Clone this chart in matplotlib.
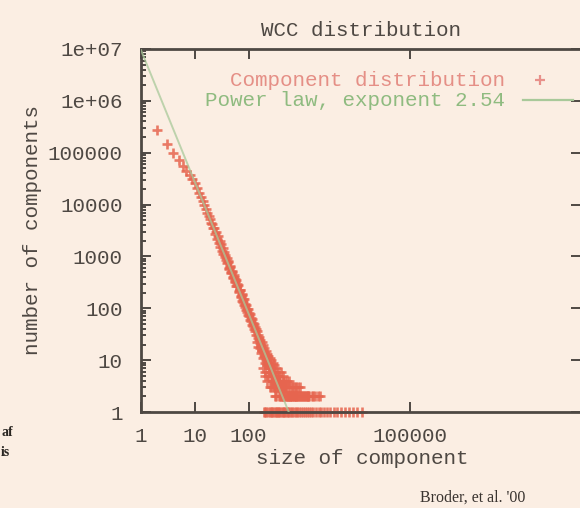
import numpy as np
import matplotlib.pyplot as plt
from matplotlib.ticker import LogLocator, FixedLocator, NullFormatter, NullLocator

# component size -> number of components
head_sizes = [2, 3, 4, 5, 6, 7, 8, 9, 10, 11, 12, 13, 14, 15, 16, 17, 18, 19, 20]
head_counts = [280000, 150000, 100000, 72000, 56000, 45000, 37000, 31000, 26000,
               21000, 17000, 14000, 11500, 9600, 8200, 7000, 6000, 5200, 4500]

band_sizes = [21, 22, 23, 24, 25, 26, 27, 28, 29, 30, 31, 32, 33, 34, 35, 36, 37, 38,
              39, 40, 42, 44, 46, 48, 50, 52, 54, 56, 58, 60, 63, 66, 69, 72, 75, 78,
              81, 85, 89, 93, 97, 101, 105, 110, 115, 120, 125, 130, 136]
band_counts = [4300, 3500, 3500, 2700, 2900, 2200, 2450, 1800, 1950, 1550, 1700, 1300,
               1450, 1120, 1230, 960, 1080, 840, 930, 740, 780, 580, 620, 470, 500, 380,
               410, 315, 345, 265, 280, 205, 222, 165, 180, 134, 150, 108, 118, 86, 95,
               70, 78, 56, 62, 45, 50, 37, 40]

band2_sizes = [41, 43, 45, 47, 49, 51, 53, 55, 57, 59, 62, 65, 68, 71, 74, 77, 80, 83,
               87, 91, 95, 99, 103, 108, 113, 118, 123, 128, 133]
band2_counts = [820, 610, 660, 490, 530, 400, 430, 330, 360, 275, 290, 215, 230, 170,
                185, 140, 152, 116, 123, 91, 99, 74, 80, 59, 64, 48, 52, 39, 43]

tail_sizes = [140, 143, 147, 150, 154, 158, 162, 166, 170, 175, 180, 185, 190, 196,
              202, 208, 214, 220, 227, 234, 241, 249, 257, 265, 274, 283, 292, 302,
              312, 323, 334, 346, 358, 371, 385, 400, 415, 431, 448, 466, 485]
tail_counts = [30, 36, 27, 31, 24, 28, 21, 25, 19, 22, 16, 20, 14, 17, 12, 15, 11, 13,
               9, 12, 8, 11, 7, 10, 6, 9, 6, 8, 5, 7, 5, 6, 4, 5, 4, 6, 3, 5, 3, 4, 3]

tail2_sizes = [145, 152, 160, 168, 176, 184, 193, 200, 211, 218, 225, 238, 246, 253,
               262, 270, 279, 288, 297, 307, 316, 327, 338, 350, 362, 375, 390, 405,
               425, 445, 470, 495, 530, 580, 630, 690, 760, 840, 920, 1000, 1150, 1300]
tail2_counts = [22, 18, 17, 14, 15, 11, 12, 9, 10, 8, 9, 7, 6, 8, 5, 7, 5, 6, 4, 5, 3,
                4, 4, 3, 3, 4, 2, 3, 3, 2, 3, 2, 2, 2, 3, 2, 2, 2, 2, 2, 2, 2]

cloud_sizes = [260, 270, 280, 290, 300, 310, 320, 330, 340, 360, 380, 420, 440, 460,
               510, 520, 540, 560, 570, 600, 620, 640, 680, 700, 720, 750, 770, 820,
               880, 950, 1020, 1100, 1200, 1350, 1500, 1700, 1950]
cloud_counts = [3, 5, 4, 4, 3, 2, 4, 2, 3, 2, 3, 2, 2, 2,
                4, 2, 3, 4, 2, 3, 2, 2, 3, 2, 2, 3, 2, 3,
                2, 2, 2, 2, 2, 2, 2, 2, 2]

cloud2_sizes = [188, 198, 206, 222, 230, 242, 255, 268, 285, 295, 315, 345, 370, 395,
                430, 455, 480, 500, 550, 590, 650, 730, 800, 900, 1050, 1250, 1600, 2100]
cloud2_counts = [7, 5, 6, 4, 5, 6, 3, 4, 3, 5, 3, 3, 4, 2,
                 4, 3, 2, 3, 2, 2, 2, 3, 2, 3, 2, 2, 2, 2]

single_sizes = [190, 205, 215, 232, 248, 260, 275, 290, 305, 318, 335, 352, 370, 392,
                410, 435, 460, 485, 510, 540, 575, 610, 650, 700, 750, 800, 870, 940,
                1020, 1100, 1200, 1320, 1450, 1600, 1780, 2000, 2250, 2550, 2900, 3300,
                3800, 4400, 5200, 6100, 7300, 8800, 10500, 12800]

# fitted power law
exponent = 2.54
coef = 9.5e6
fit_x = [1, 1e9]

sizes = (head_sizes + band_sizes + band2_sizes + tail_sizes + tail2_sizes
         + cloud_sizes + cloud2_sizes + single_sizes)
counts = (head_counts + band_counts + band2_counts + tail_counts + tail2_counts
          + cloud_counts + cloud2_counts + [1] * len(single_sizes))

bg = '#fbeee3'
ink = '#4e4843'
mono = 'Liberation Mono'

fig = plt.figure(figsize=(5.8, 5.08), dpi=100, facecolor=bg)
ax = fig.add_axes([141 / 580, 96 / 508, 440 / 580, 363 / 508], facecolor=bg)

ax.plot(sizes, counts, linestyle='none', marker='+', markersize=7, markeredgewidth=1.9,
        color='#e6654f', alpha=0.85, clip_on=False, zorder=2)
ax.plot(fit_x, [coef * v ** -exponent for v in fit_x], color='#a9c99a', lw=1.4,
        alpha=0.75, zorder=3)

ax.set_xscale('log')
ax.set_yscale('log')
ax.set_xlim(1, 10 ** 8.18)
ax.set_ylim(1, 1e7)

ax.xaxis.set_major_locator(FixedLocator([1, 10, 100, 100000]))
ax.xaxis.set_minor_locator(NullLocator())
ax.set_xticklabels(['1', '10', '100', '100000'])
ax.yaxis.set_minor_locator(LogLocator(base=10, subs=np.arange(2, 10), numticks=20))
ax.yaxis.set_minor_formatter(NullFormatter())
ax.set_yticks([1, 10, 100, 1000, 10000, 100000, 1e6, 1e7])
ax.set_yticklabels(['1', '10', '100', '1000', '10000', '100000', '1e+06', '1e+07'])

ax.tick_params(which='both', direction='in', top=True, right=True, colors=ink,
               labelsize=15, width=1.4)
ax.tick_params(which='major', length=7)
ax.tick_params(which='minor', length=3.5, right=False)
ax.tick_params(axis='x', pad=11)
ax.tick_params(axis='y', pad=13)
for lab in ax.get_xticklabels() + ax.get_yticklabels():
    lab.set_family(mono)
for sp in ax.spines.values():
    sp.set_color(ink)
    sp.set_linewidth(2)

txt = dict(family=mono, color=ink, fontsize=15)
ax.set_title('WCC distribution', y=(412 - 30) / 363, pad=0, va='center', **txt)
ax.set_xlabel('size of component', va='center', **txt)
ax.xaxis.set_label_coords((362 - 141) / 440, -(458 - 412) / 363)
ax.set_ylabel('number of components', va='center', **txt)
ax.yaxis.set_label_coords((33 - 141) / 440, (412 - 230) / 363)

# key, gnuplot style: right-aligned text with sample on the right
ax.text((505 - 141) / 440, (412 - 80) / 363, 'Component distribution', ha='right',
        va='center', transform=ax.transAxes, family=mono,
        color='#e58f86', fontsize=15)
ax.plot([(540 - 141) / 440], [(412 - 80) / 363], marker='+', markersize=7,
        markeredgewidth=1.6, color='#e8908a', transform=ax.transAxes)
ax.text((505 - 141) / 440, (412 - 100) / 363, 'Power law, exponent 2.54', ha='right',
        va='center', transform=ax.transAxes, family=mono,
        color='#8fbb80', fontsize=15)
ax.plot([(523 - 141) / 440, (573 - 141) / 440], [(412 - 100) / 363] * 2,
        color='#a9c99a', lw=1.6, transform=ax.transAxes)

# bits of the surrounding slide
fig.text(0.002, 1 - 432 / 508, 'af', family='Liberation Serif', weight='bold',
         fontsize=10, color='#2a2622', va='center', ha='left')
fig.text(0.002, 1 - 452 / 508, 'is', family='Liberation Serif', weight='bold',
         fontsize=10, color='#2a2622', va='center', ha='left')
fig.text(473 / 580, 1 - 498 / 508, "Broder, et al. '00", family='Liberation Serif',
         fontsize=11.5, color='#3a3430', va='center', ha='center')

fig.savefig('out.png', dpi=100, facecolor=bg)
